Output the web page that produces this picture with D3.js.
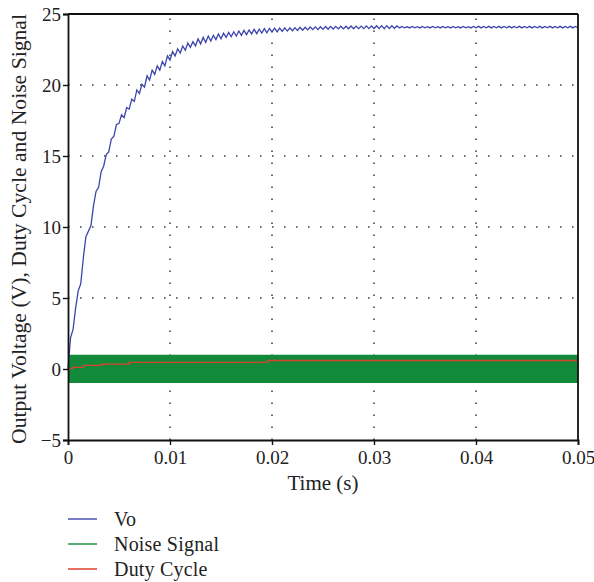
<!DOCTYPE html>
<html>
<head>
<meta charset="UTF-8">
<title>Output voltage, duty cycle and noise signal</title>
<script src="https://cdn.jsdelivr.net/npm/d3@7"></script>
<style>
* { margin: 0; padding: 0; }
body { background: #fff; }
#chart { display: block; }
text { font-family: "Liberation Serif", "DejaVu Serif", serif; fill: #222; }
</style>
</head>
<body>
<svg id="chart"></svg>
<script>
// sample spacing of the Vo trace (s)
const voStep = 0.00025;
const voValues = [
  0, 2.2, 2.8, 4.3, 5.5, 6.0, 7.8, 9.3, 9.7, 10.1,
  11.5, 12.5, 12.8, 13.9, 14.3, 15.1, 15.3, 16.2, 16.4, 17.2,
  17.3, 17.9, 17.7, 18.4, 18.3, 19.0, 18.85, 19.65, 19.4, 20.05,
  19.85, 20.65, 20.35, 21.05, 20.75, 21.35, 21.05, 21.65, 21.35, 22.05,
  21.75, 22.35, 22.05, 22.55, 22.25, 22.75, 22.45, 22.95, 22.65, 23.05,
  22.75, 23.25, 22.9, 23.35, 23.0, 23.45, 23.1, 23.5, 23.2, 23.6,
  23.25, 23.65, 23.35, 23.7, 23.4, 23.75, 23.45, 23.8, 23.5, 23.85,
  23.55, 23.88, 23.6, 23.92, 23.62, 23.93, 23.66, 23.97, 23.68, 23.98,
  23.72, 24.0, 23.75, 24.01, 23.78, 24.02, 23.8, 24.03, 23.82, 24.04,
  23.84, 24.06, 23.86, 24.07, 23.88, 24.08, 23.9, 24.09, 23.9, 24.1,
  23.92, 24.12, 23.93, 24.13, 23.94, 24.13, 23.95, 24.14, 23.95, 24.14,
  23.96, 24.15, 23.96, 24.15, 23.97, 24.15, 23.97, 24.16, 23.97, 24.16,
  23.98, 24.17, 23.98, 24.18, 23.97, 24.18, 23.98, 24.17, 23.99, 24.16,
  24.02, 24.12, 24.03, 24.1, 24.02, 24.12, 24.03, 24.11, 24.02, 24.12,
  24.03, 24.11, 24.02, 24.12, 24.03, 24.11, 24.02, 24.12, 24.03, 24.11,
  24.02, 24.12, 24.03, 24.11, 24.02, 24.12, 24.03, 24.11, 24.02, 24.12,
  24.03, 24.13, 24.02, 24.12, 24.03, 24.13, 24.02, 24.12, 24.03, 24.13,
  24.02, 24.12, 24.03, 24.13, 24.02, 24.12, 24.03, 24.13, 24.02, 24.12,
  24.03, 24.13, 24.02, 24.12, 24.03, 24.13, 24.02, 24.12, 24.03, 24.13,
  24.02, 24.12, 24.03, 24.13, 24.02, 24.12, 24.03, 24.13, 24.02, 24.12,
  24.05
];

// duty cycle steps (held until next time)
const dutyTime = [0, 0.00045, 0.0015, 0.0033, 0.006, 0.0196, 0.05];
const dutyValues = [0.02, 0.12, 0.25, 0.35, 0.47, 0.6, 0.6];

// noise signal envelope (fills the band)
const noiseTime = [0, 0.05];
const noiseMax = [1.0, 1.0];
const noiseMin = [-0.98, -0.98];

const xTicks = [0, 0.01, 0.02, 0.03, 0.04, 0.05];
const yTicks = [-5, 0, 5, 10, 15, 20, 25];

const legendItems = ["Vo", "Noise Signal", "Duty Cycle"];
const colors = { vo: "#3d45ad", noise: "#138a3a", duty: "#d9442f" };
const legendColors = ["#4a52b3", "#1c9a48", "#e8705f"];

const width = 594, height = 582;
const margin = { top: 14, right: 16, bottom: 142, left: 68 };

const svg = d3.select("#chart").attr("width", width).attr("height", height);

const x = d3.scaleLinear().domain([0, 0.05]).range([margin.left, width - margin.right]);
const y = d3.scaleLinear().domain([-5, 25]).range([height - margin.bottom, margin.top]);

// dotted grid
const grid = svg.append("g").attr("stroke", "#444").attr("stroke-width", 1.6)
  .attr("stroke-dasharray", "1.6,10.4");
grid.selectAll(".gx").data(xTicks.slice(1, -1)).enter().append("line")
  .attr("x1", d => x(d)).attr("x2", d => x(d))
  .attr("y1", y(-5)).attr("y2", y(25));
grid.selectAll(".gy").data(yTicks.slice(1, -1)).enter().append("line")
  .attr("x1", x(0)).attr("x2", x(0.05))
  .attr("y1", d => y(d)).attr("y2", d => y(d));

// noise band
const noiseData = noiseTime.map((t, i) => ({ t, hi: noiseMax[i], lo: noiseMin[i] }));
svg.append("path")
  .datum(noiseData)
  .attr("fill", colors.noise)
  .attr("d", d3.area().x(d => x(d.t)).y0(d => y(d.lo)).y1(d => y(d.hi)));

// duty cycle
const dutyData = dutyTime.map((t, i) => ({ t, v: dutyValues[i] }));
svg.append("path")
  .datum(dutyData)
  .attr("fill", "none")
  .attr("stroke", colors.duty)
  .attr("stroke-width", 1.3)
  .attr("d", d3.line().curve(d3.curveStepAfter).x(d => x(d.t)).y(d => y(d.v)));

// output voltage
const voData = voValues.map((v, i) => ({ t: i * voStep, v }));
svg.append("path")
  .datum(voData)
  .attr("fill", "none")
  .attr("stroke", colors.vo)
  .attr("stroke-width", 1.3)
  .attr("d", d3.line().x(d => x(d.t)).y(d => y(d.v)));

// axes
const xAxis = svg.append("g")
  .attr("transform", `translate(0,${y(-5)})`)
  .call(d3.axisBottom(x).tickValues(xTicks).tickSize(5).tickPadding(6)
    .tickFormat(d => d === 0 ? "0" : d3.format(".2f")(d)));
const yAxis = svg.append("g")
  .attr("transform", `translate(${x(0)},0)`)
  .call(d3.axisLeft(y).tickValues(yTicks).tickSize(5).tickPadding(2));

[xAxis, yAxis].forEach(a => {
  a.select(".domain").attr("stroke", "#111").attr("stroke-width", 1.8);
  a.selectAll(".tick line").attr("stroke", "#111").attr("stroke-width", 1.4);
  a.selectAll(".tick text").attr("font-family", "Liberation Serif, serif")
    .attr("font-size", 19).attr("fill", "#222");
});

// top and right frame
svg.append("line").attr("x1", x(0)).attr("x2", x(0.05)).attr("y1", y(25)).attr("y2", y(25))
  .attr("stroke", "#111").attr("stroke-width", 1.8);
svg.append("line").attr("x1", x(0.05)).attr("x2", x(0.05)).attr("y1", y(25)).attr("y2", y(-5))
  .attr("stroke", "#111").attr("stroke-width", 1.8);

// axis titles
svg.append("text")
  .attr("x", (x(0) + x(0.05)) / 2).attr("y", 490)
  .attr("text-anchor", "middle").attr("font-size", 20)
  .attr("textLength", 71).attr("lengthAdjust", "spacingAndGlyphs")
  .text("Time (s)");
svg.append("text")
  .attr("transform", `translate(26,${(y(25) + y(-5)) / 2 + 2}) rotate(-90)`)
  .attr("text-anchor", "middle").attr("font-size", 21)
  .attr("textLength", 430).attr("lengthAdjust", "spacingAndGlyphs")
  .text("Output Voltage (V), Duty Cycle and Noise Signal");

// legend
const legend = svg.append("g");
legendItems.forEach((name, i) => {
  const ly = 519 + i * 25;
  legend.append("line").attr("x1", 68).attr("x2", 97).attr("y1", ly).attr("y2", ly)
    .attr("stroke", legendColors[i]).attr("stroke-width", i === 2 ? 2 : 1.5);
  legend.append("text").attr("x", 114).attr("y", ly).attr("dy", "0.35em")
    .attr("font-size", 20).attr("letter-spacing", 0.2).text(name);
});
</script>
</body>
</html>
